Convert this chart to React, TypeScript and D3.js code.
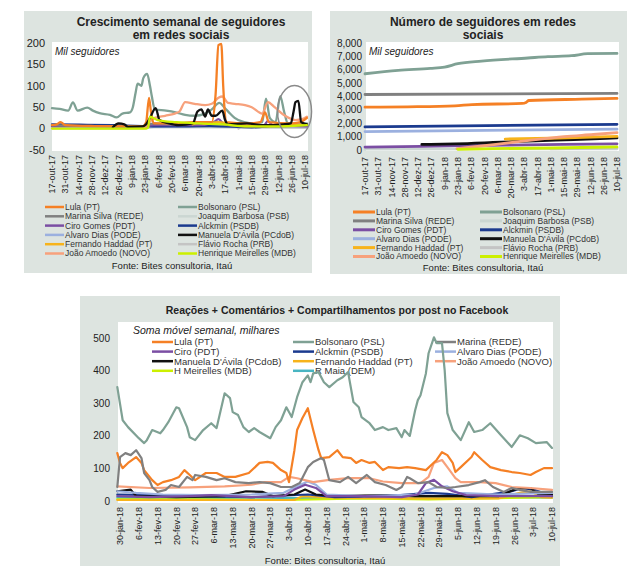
import * as d3 from "d3";
import type { ReactNode } from "react";

type Pt = [string, number];

const MESES = ["jan", "fev", "mar", "abr", "mai", "jun", "jul", "ago", "set", "out", "nov", "dez"];
const parseDia = (s: string) => {
  const [d, m, a] = s.split("-");
  return new Date(2000 + +a, MESES.indexOf(m), +d);
};

const FONT = "'Liberation Sans', Arial, sans-serif";
const BG = "#dde4e0";
const TXT = "#222";

const COR = {
  lula: "#f58025", bolso: "#7fa194", marina: "#808080", joaquim: "#cbd6d2", ciro: "#7b4ea3",
  alckmin: "#1b3a8e", alvaro: "#9bb0df", manuela: "#111111", haddad: "#f7b31b", flavio: "#c4c4c4",
  amoedo: "#f7a17c", meirelles: "#ccf000", maia: "#48b5c2",
};

// ---- eixos ----
const TICKS_SEG = ["17-out-17", "31-out-17", "14-nov-17", "28-nov-17", "12-dez-17", "26-dez-17", "9-jan-18", "23-jan-18", "6-fev-18", "20-fev-18", "6-mar-18", "20-mar-18", "3-abr-18", "17-abr-18", "1-mai-18", "15-mai-18", "29-mai-18", "12-jun-18", "26-jun-18", "10-jul-18"];
const TICKS_FB = ["30-jan-18", "6-fev-18", "13-fev-18", "20-fev-18", "27-fev-18", "6-mar-18", "13-mar-18", "20-mar-18", "27-mar-18", "3-abr-18", "10-abr-18", "17-abr-18", "24-abr-18", "1-mai-18", "8-mai-18", "15-mai-18", "22-mai-18", "29-mai-18", "5-jun-18", "12-jun-18", "19-jun-18", "26-jun-18", "3-jul-18", "10-jul-18"];
const Y_CRESC = [-50, 0, 50, 100, 150, 200];
const Y_NUM = [0, 1000, 2000, 3000, 4000, 5000, 6000, 7000, 8000];
const Y_FB = [0, 100, 200, 300, 400, 500];

// ---- crescimento semanal (mil seguidores) ----
const CR_LULA: Pt[] = [["17-out-17", 8], ["22-out-17", 10], ["26-out-17", 15], ["31-out-17", 8], ["1-dez-17", 6], ["20-jan-18", 5], ["24-jan-18", 15], ["27-jan-18", 72], ["29-jan-18", 40], ["1-fev-18", 12], ["20-fev-18", 12], ["15-mar-18", 15], ["3-abr-18", 15], ["7-abr-18", 80], ["10-abr-18", 195], ["13-abr-18", 198], ["15-abr-18", 100], ["18-abr-18", 15], ["10-mai-18", 12], ["24-mai-18", 15], ["29-mai-18", 38], ["2-jun-18", 15], ["25-jun-18", 12], ["5-jul-18", 15], ["12-jul-18", 25]];
const CR_BOLSO: Pt[] = [["17-out-17", 48], ["25-out-17", 46], ["3-nov-17", 42], ["8-nov-17", 61], ["13-nov-17", 42], ["23-nov-17", 49], ["29-nov-17", 42], ["6-dez-17", 36], ["17-dez-17", 32], ["24-dez-17", 26], ["30-dez-17", 35], ["7-jan-18", 38], ["10-jan-18", 50], ["13-jan-18", 85], ["15-jan-18", 105], ["19-jan-18", 100], ["21-jan-18", 118], ["25-jan-18", 128], ["28-jan-18", 100], ["30-jan-18", 75], ["2-fev-18", 45], ["14-fev-18", 42], ["24-fev-18", 38], ["6-mar-18", 32], ["16-mar-18", 30], ["27-mar-18", 35], ["3-abr-18", 45], ["11-abr-18", 60], ["16-abr-18", 50], ["21-abr-18", 38], ["27-abr-18", 25], ["7-mai-18", 15], ["18-mai-18", 12], ["26-mai-18", 15], ["30-mai-18", 70], ["3-jun-18", 25], ["9-jun-18", 15], ["14-jun-18", 76], ["18-jun-18", 40], ["22-jun-18", 12], ["3-jul-18", 10], ["12-jul-18", 12]];
const CR_MARINA: Pt[] = [["17-out-17", 8], ["15-nov-17", 6], ["20-dez-17", 5], ["20-jan-18", 5], ["1-fev-18", 12], ["20-fev-18", 10], ["20-mar-18", 12], ["10-abr-18", 15], ["20-abr-18", 8], ["20-mai-18", 5], ["10-jun-18", 5], ["12-jul-18", 8]];
const CR_JOAQUIM: Pt[] = [["17-out-17", 0], ["20-jan-18", 0], ["1-fev-18", 3], ["12-jul-18", 2]];
const CR_CIRO: Pt[] = [["17-out-17", 5], ["1-dez-17", 6], ["20-jan-18", 5], ["1-fev-18", 8], ["20-mar-18", 8], ["5-abr-18", 15], ["10-abr-18", 22], ["16-abr-18", 10], ["10-mai-18", 5], ["28-mai-18", 8], ["1-jun-18", 18], ["6-jun-18", 8], ["12-jul-18", 5]];
const CR_ALCKMIN: Pt[] = [["17-out-17", 10], ["15-nov-17", 9], ["20-dez-17", 8], ["20-jan-18", 6], ["15-fev-18", 5], ["1-abr-18", 6], ["15-mai-18", 3], ["15-jun-18", 8], ["12-jul-18", 8]];
const CR_ALVARO: Pt[] = [["17-out-17", 6], ["1-dez-17", 5], ["20-jan-18", 4], ["1-mar-18", 5], ["10-abr-18", 8], ["15-mai-18", 5], ["12-jul-18", 6]];
const CR_MANUELA: Pt[] = [["20-dez-17", 3], ["26-dez-17", 12], ["1-jan-18", 10], ["5-jan-18", 4], ["20-jan-18", 5], ["24-jan-18", 10], ["28-jan-18", 25], ["3-fev-18", 48], ["7-fev-18", 20], ["17-fev-18", 12], ["27-fev-18", 8], ["14-mar-18", 12], ["19-mar-18", 40], ["23-mar-18", 45], ["27-mar-18", 28], ["30-mar-18", 45], ["3-abr-18", 30], ["7-abr-18", 30], ["14-abr-18", 42], ["17-abr-18", 20], ["20-abr-18", 10], ["10-mai-18", 12], ["27-mai-18", 8], ["17-jun-18", 10], ["25-jun-18", 12], ["28-jun-18", 40], ["30-jun-18", 62], ["3-jul-18", 65], ["6-jul-18", 15], ["12-jul-18", 10]];
const CR_HADDAD: Pt[] = [["14-mar-18", 10], ["20-mar-18", 15], ["27-mar-18", 12], ["10-abr-18", 15], ["1-mai-18", 8], ["1-jun-18", 6], ["12-jul-18", 10]];
const CR_FLAVIO: Pt[] = [["1-mai-18", 0], ["5-mai-18", 5], ["12-jul-18", 3]];
const CR_AMOEDO: Pt[] = [["23-jan-18", 3], ["2-fev-18", 25], ["13-fev-18", 30], ["23-fev-18", 35], ["28-fev-18", 40], ["6-mar-18", 62], ["16-mar-18", 58], ["27-mar-18", 55], ["3-abr-18", 58], ["10-abr-18", 72], ["14-abr-18", 75], ["20-abr-18", 60], ["27-abr-18", 58], ["8-mai-18", 55], ["15-mai-18", 50], ["26-mai-18", 35], ["1-jun-18", 62], ["8-jun-18", 50], ["19-jun-18", 30], ["30-jun-18", 20], ["7-jul-18", 22], ["12-jul-18", 28]];
const CR_MEIRELLES: Pt[] = [["17-out-17", 0], ["24-jan-18", 0], ["26-jan-18", 2], ["28-jan-18", 28], ["5-fev-18", 20], ["25-fev-18", 15], ["20-mar-18", 12], ["15-abr-18", 10], ["10-mai-18", 5], ["10-jun-18", 5], ["12-jul-18", 8]];

// ---- número de seguidores (mil) ----
const NU_LULA: Pt[] = [["17-out-17", 3200], ["1-dez-17", 3230], ["20-jan-18", 3300], ["7-fev-18", 3400], ["1-abr-18", 3480], ["5-abr-18", 3560], ["8-abr-18", 3700], ["3-jun-18", 3800], ["10-jul-18", 3860]];
const NU_BOLSO: Pt[] = [["17-out-17", 5700], ["21-nov-17", 5950], ["25-dez-17", 6100], ["9-jan-18", 6200], ["23-jan-18", 6450], ["17-fev-18", 6650], ["7-abr-18", 6880], ["28-abr-18", 6980], ["23-mai-18", 7050], ["9-jun-18", 7200], ["10-jul-18", 7220]];
const NU_MARINA: Pt[] = [["17-out-17", 4150], ["10-jul-18", 4230]];
const NU_JOAQUIM: Pt[] = [["17-out-17", 60], ["10-jul-18", 90]];
const NU_CIRO: Pt[] = [["17-out-17", 220], ["15-dez-17", 270], ["25-jan-18", 320], ["15-mar-18", 370], ["15-mai-18", 420], ["10-jul-18", 460]];
const NU_ALCKMIN: Pt[] = [["17-out-17", 1730], ["10-jul-18", 1920]];
const NU_ALVARO: Pt[] = [["17-out-17", 1380], ["10-jul-18", 1560]];
const NU_MANUELA: Pt[] = [["16-dez-17", 420], ["20-jan-18", 460], ["1-mar-18", 560], ["15-abr-18", 690], ["25-mai-18", 780], ["10-jul-18", 900]];
const NU_HADDAD: Pt[] = [["14-mar-18", 820], ["1-mai-18", 880], ["10-jul-18", 1020]];
const NU_FLAVIO: Pt[] = [["1-mai-18", 80], ["10-jul-18", 160]];
const NU_AMOEDO: Pt[] = [["22-jan-18", 100], ["15-fev-18", 280], ["15-mar-18", 520], ["15-abr-18", 780], ["15-mai-18", 1000], ["15-jun-18", 1160], ["10-jul-18", 1300]];
const NU_MEIRELLES: Pt[] = [["23-jan-18", 50], ["1-mar-18", 100], ["1-mai-18", 150], ["10-jul-18", 230]];

// ---- Facebook: soma móvel semanal (milhares) ----
const FB_LULA: Pt[] = [["29-jan-18", 147], ["30-jan-18", 117], ["31-jan-18", 101], ["2-fev-18", 117], ["5-fev-18", 135], ["7-fev-18", 117], ["8-fev-18", 95], ["11-fev-18", 64], ["13-fev-18", 49], ["15-fev-18", 58], ["18-fev-18", 64], ["21-fev-18", 74], ["23-fev-18", 95], ["25-fev-18", 80], ["27-fev-18", 64], ["3-mar-18", 86], ["7-mar-18", 86], ["10-mar-18", 74], ["14-mar-18", 74], ["19-mar-18", 86], ["23-mar-18", 117], ["26-mar-18", 120], ["28-mar-18", 117], ["31-mar-18", 95], ["2-abr-18", 86], ["3-abr-18", 58], ["5-abr-18", 156], ["6-abr-18", 218], ["8-abr-18", 255], ["10-abr-18", 285], ["12-abr-18", 218], ["14-abr-18", 156], ["15-abr-18", 132], ["18-abr-18", 135], ["21-abr-18", 156], ["23-abr-18", 135], ["26-abr-18", 132], ["28-abr-18", 117], ["30-abr-18", 126], ["3-mai-18", 117], ["5-mai-18", 120], ["8-mai-18", 95], ["10-mai-18", 104], ["14-mai-18", 101], ["17-mai-18", 104], ["20-mai-18", 101], ["24-mai-18", 95], ["28-mai-18", 126], ["30-mai-18", 150], ["1-jun-18", 141], ["3-jun-18", 117], ["4-jun-18", 89], ["6-jun-18", 104], ["10-jun-18", 135], ["11-jun-18", 150], ["14-jun-18", 126], ["17-jun-18", 104], ["21-jun-18", 95], ["25-jun-18", 89], ["28-jun-18", 86], ["2-jul-18", 80], ["4-jul-18", 89], ["7-jul-18", 101], ["10-jul-18", 101]];
const FB_BOLSO: Pt[] = [["29-jan-18", 350], ["31-jan-18", 248], ["2-fev-18", 227], ["6-fev-18", 193], ["8-fev-18", 178], ["9-fev-18", 187], ["11-fev-18", 218], ["14-fev-18", 208], ["15-fev-18", 218], ["17-fev-18", 242], ["20-fev-18", 288], ["21-fev-18", 285], ["24-fev-18", 227], ["25-fev-18", 196], ["27-fev-18", 187], ["2-mar-18", 218], ["5-mar-18", 239], ["7-mar-18", 224], ["10-mar-18", 331], ["12-mar-18", 316], ["13-mar-18", 273], ["15-mar-18", 264], ["17-mar-18", 227], ["19-mar-18", 212], ["21-mar-18", 224], ["23-mar-18", 212], ["27-mar-18", 193], ["29-mar-18", 227], ["31-mar-18", 248], ["2-abr-18", 288], ["4-abr-18", 258], ["6-abr-18", 319], ["8-abr-18", 365], ["10-abr-18", 386], ["11-abr-18", 365], ["12-abr-18", 392], ["14-abr-18", 396], ["16-abr-18", 365], ["18-abr-18", 350], ["21-abr-18", 371], ["23-abr-18", 380], ["25-abr-18", 396], ["27-abr-18", 304], ["29-abr-18", 288], ["30-abr-18", 258], ["3-mai-18", 239], ["5-mai-18", 218], ["8-mai-18", 227], ["10-mai-18", 218], ["13-mai-18", 224], ["15-mai-18", 196], ["16-mai-18", 218], ["18-mai-18", 200], ["20-mai-18", 279], ["21-mai-18", 310], ["22-mai-18", 325], ["24-mai-18", 392], ["25-mai-18", 454], ["27-mai-18", 503], ["28-mai-18", 485], ["30-mai-18", 485], ["31-mai-18", 402], ["1-jun-18", 270], ["3-jun-18", 218], ["6-jun-18", 187], ["9-jun-18", 242], ["11-jun-18", 212], ["14-jun-18", 218], ["17-jun-18", 239], ["21-jun-18", 202], ["25-jun-18", 166], ["28-jun-18", 202], ["1-jul-18", 193], ["4-jul-18", 178], ["8-jul-18", 181], ["10-jul-18", 163]];
const FB_MARINA: Pt[] = [["29-jan-18", 43], ["30-jan-18", 135], ["1-fev-18", 147], ["3-fev-18", 141], ["5-fev-18", 156], ["7-fev-18", 132], ["8-fev-18", 86], ["10-fev-18", 64], ["11-fev-18", 43], ["13-fev-18", 28], ["16-fev-18", 34], ["18-fev-18", 49], ["21-fev-18", 43], ["24-fev-18", 74], ["26-fev-18", 64], ["27-fev-18", 80], ["3-mar-18", 74], ["7-mar-18", 64], ["10-mar-18", 70], ["14-mar-18", 58], ["19-mar-18", 55], ["23-mar-18", 58], ["27-mar-18", 55], ["31-mar-18", 43], ["4-abr-18", 43], ["7-abr-18", 55], ["10-abr-18", 104], ["12-abr-18", 120], ["15-abr-18", 132], ["16-abr-18", 126], ["18-abr-18", 64], ["22-abr-18", 58], ["25-abr-18", 74], ["28-abr-18", 55], ["2-mai-18", 80], ["5-mai-18", 58], ["9-mai-18", 49], ["13-mai-18", 34], ["15-mai-18", 43], ["17-mai-18", 74], ["18-mai-18", 70], ["21-mai-18", 55], ["25-mai-18", 58], ["28-mai-18", 43], ["1-jun-18", 40], ["4-jun-18", 43], ["9-jun-18", 49], ["13-jun-18", 58], ["15-jun-18", 64], ["18-jun-18", 43], ["22-jun-18", 28], ["25-jun-18", 40], ["28-jun-18", 34], ["2-jul-18", 28], ["10-jul-18", 28]];
const FB_CIRO: Pt[] = [["29-jan-18", 15], ["10-fev-18", 12], ["25-fev-18", 15], ["5-mar-18", 18], ["20-mar-18", 12], ["1-abr-18", 15], ["5-abr-18", 35], ["9-abr-18", 50], ["13-abr-18", 40], ["17-abr-18", 15], ["1-mai-18", 15], ["15-mai-18", 12], ["21-mai-18", 20], ["24-mai-18", 55], ["27-mai-18", 65], ["30-mai-18", 45], ["3-jun-18", 30], ["8-jun-18", 18], ["20-jun-18", 15], ["10-jul-18", 15]];
const FB_ALCKMIN: Pt[] = [["29-jan-18", 20], ["10-fev-18", 18], ["1-mar-18", 15], ["20-mar-18", 12], ["10-abr-18", 20], ["20-abr-18", 12], ["10-mai-18", 15], ["25-mai-18", 25], ["1-jun-18", 22], ["10-jun-18", 12], ["25-jun-18", 30], ["29-jun-18", 40], ["3-jul-18", 35], ["10-jul-18", 15]];
const FB_ALVARO: Pt[] = [["29-jan-18", 30], ["5-fev-18", 25], ["15-fev-18", 20], ["1-mar-18", 18], ["20-mar-18", 20], ["1-abr-18", 25], ["6-abr-18", 45], ["10-abr-18", 60], ["13-abr-18", 50], ["17-abr-18", 20], ["1-mai-18", 15], ["20-mai-18", 20], ["27-mai-18", 40], ["1-jun-18", 45], ["5-jun-18", 25], ["20-jun-18", 20], ["10-jul-18", 25]];
const FB_MANUELA: Pt[] = [["29-jan-18", 30], ["3-fev-18", 35], ["5-fev-18", 15], ["20-fev-18", 12], ["10-mar-18", 15], ["18-mar-18", 30], ["24-mar-18", 28], ["28-mar-18", 15], ["5-abr-18", 20], ["9-abr-18", 35], ["13-abr-18", 20], ["20-abr-18", 15], ["10-mai-18", 18], ["20-mai-18", 15], ["1-jun-18", 15], ["20-jun-18", 15], ["27-jun-18", 38], ["2-jul-18", 40], ["5-jul-18", 20], ["10-jul-18", 20]];
const FB_HADDAD: Pt[] = [["29-jan-18", 3], ["5-abr-18", 3], ["8-abr-18", 15], ["20-abr-18", 10], ["20-mai-18", 8], ["20-jun-18", 8], ["28-jun-18", 25], ["2-jul-18", 30], ["6-jul-18", 12], ["10-jul-18", 10]];
const FB_AMOEDO: Pt[] = [["29-jan-18", 45], ["10-fev-18", 40], ["25-fev-18", 42], ["10-mar-18", 45], ["20-mar-18", 50], ["25-mar-18", 58], ["31-mar-18", 58], ["3-abr-18", 74], ["6-abr-18", 70], ["12-abr-18", 58], ["18-abr-18", 65], ["25-abr-18", 70], ["3-mai-18", 70], ["8-mai-18", 60], ["15-mai-18", 55], ["22-mai-18", 55], ["25-mai-18", 74], ["27-mai-18", 117], ["30-mai-18", 126], ["1-jun-18", 104], ["4-jun-18", 70], ["6-jun-18", 58], ["13-jun-18", 58], ["19-jun-18", 55], ["25-jun-18", 43], ["2-jul-18", 40], ["10-jul-18", 34]];
const FB_MEIRELLES: Pt[] = [["29-jan-18", 5], ["1-mar-18", 5], ["1-abr-18", 3], ["1-mai-18", 8], ["25-mai-18", 5], ["15-jun-18", 8], ["10-jul-18", 12]];
const FB_MAIA: Pt[] = [["29-jan-18", 10], ["20-fev-18", 8], ["20-mar-18", 10], ["20-abr-18", 8], ["20-mai-18", 10], ["20-jun-18", 12], ["10-jul-18", 10]];

interface Serie { rotulo: string; cor: string; dados: Pt[] }

const s = (rotulo: string, cor: string, dados: Pt[]): Serie => ({ rotulo, cor, dados });

const CR = {
  lula: s("Lula (PT)", COR.lula, CR_LULA), bolso: s("Bolsonaro (PSL)", COR.bolso, CR_BOLSO),
  marina: s("Marina Silva (REDE)", COR.marina, CR_MARINA), joaquim: s("Joaquim Barbosa (PSB)", COR.joaquim, CR_JOAQUIM),
  ciro: s("Ciro Gomes (PDT)", COR.ciro, CR_CIRO), alckmin: s("Alckmin (PSDB)", COR.alckmin, CR_ALCKMIN),
  alvaro: s("Alvaro Dias (PODE)", COR.alvaro, CR_ALVARO), manuela: s("Manuela D'Ávila (PCdoB)", COR.manuela, CR_MANUELA),
  haddad: s("Fernando Haddad (PT)", COR.haddad, CR_HADDAD), flavio: s("Flávio Rocha (PRB)", COR.flavio, CR_FLAVIO),
  amoedo: s("João Amoedo (NOVO)", COR.amoedo, CR_AMOEDO), meirelles: s("Henrique Meirelles (MDB)", COR.meirelles, CR_MEIRELLES),
};
const NU = {
  lula: s("Lula (PT)", COR.lula, NU_LULA), bolso: s("Bolsonaro (PSL)", COR.bolso, NU_BOLSO),
  marina: s("Marina Silva (REDE)", COR.marina, NU_MARINA), joaquim: s("Joaquim Barbosa (PSB)", COR.joaquim, NU_JOAQUIM),
  ciro: s("Ciro Gomes (PDT)", COR.ciro, NU_CIRO), alckmin: s("Alckmin (PSDB)", COR.alckmin, NU_ALCKMIN),
  alvaro: s("Alvaro Dias (PODE)", COR.alvaro, NU_ALVARO), manuela: s("Manuela D'Ávila (PCdoB)", COR.manuela, NU_MANUELA),
  haddad: s("Fernando Haddad (PT)", COR.haddad, NU_HADDAD), flavio: s("Flávio Rocha (PRB)", COR.flavio, NU_FLAVIO),
  amoedo: s("João Amoedo (NOVO)", COR.amoedo, NU_AMOEDO), meirelles: s("Henrique Meirelles (MDB)", COR.meirelles, NU_MEIRELLES),
};
const FB = {
  lula: s("Lula (PT)", COR.lula, FB_LULA), bolso: s("Bolsonaro (PSL)", COR.bolso, FB_BOLSO),
  marina: s("Marina (REDE)", COR.marina, FB_MARINA), ciro: s("Ciro (PDT)", COR.ciro, FB_CIRO),
  alckmin: s("Alckmin (PSDB)", COR.alckmin, FB_ALCKMIN), alvaro: s("Alvaro Dias (PODE)", COR.alvaro, FB_ALVARO),
  manuela: s("Manuela D'Ávila (PCdoB)", COR.manuela, FB_MANUELA), haddad: s("Fernando Haddad (PT)", COR.haddad, FB_HADDAD),
  amoedo: s("João Amoedo (NOVO)", COR.amoedo, FB_AMOEDO), meirelles: s("H Meirelles (MDB)", COR.meirelles, FB_MEIRELLES),
  maia: s("R Maia (DEM)", COR.maia, FB_MAIA),
};

const rotuloData = (d: Date) => `${d.getDate()}-${MESES[d.getMonth()]}-${String(d.getFullYear()).slice(2)}`;

interface Cfg {
  caixa: [number, number, number, number];
  area: [number, number, number, number];
  xDom: [string, string]; xRange: [number, number];
  yDom: [number, number]; yRange: [number, number];
  yTicks: number[]; yFmt: (v: number) => string; yLabelX: number; yFont: number;
  xTicks: string[]; xLabelY: number;
  series: Serie[]; curva: d3.CurveFactory; sw: number;
  titulo: string[]; tituloX: number; tituloY: number[]; tituloFont: number;
  sub: string; subX: number; subY: number; subFont: number;
  fonte: [number, number];
  leg: { itens: Serie[]; colX: number[]; y0: number; passo: number; porColuna: boolean; n: number; lineLen: number; font: number; sw: number };
  extra?: (x: d3.ScaleTime<number, number>, y: d3.ScaleLinear<number, number>) => ReactNode;
}

function Painel({ c }: { c: Cfg }) {
  const x = d3.scaleTime().domain(c.xDom.map(parseDia)).range(c.xRange);
  const y = d3.scaleLinear().domain(c.yDom).range(c.yRange);
  const linha = d3.line<Pt>().x(d => x(parseDia(d[0]))).y(d => y(d[1])).curve(c.curva);
  const [bx, by, bw, bh] = c.caixa;
  const [ax0, ay0, ax1, ay1] = c.area;
  return (
    <g fontFamily={FONT}>
      <rect x={bx} y={by} width={bw} height={bh} fill={BG} />
      <rect x={ax0} y={ay0} width={ax1 - ax0} height={ay1 - ay0} fill="#fff" />
      {c.titulo.map((t, i) => (
        <text key={t} x={c.tituloX} y={c.tituloY[i]} textAnchor="middle" fontWeight="bold" fontSize={c.tituloFont} fill={TXT}>{t}</text>
      ))}
      {c.yTicks.map(v => (
        <text key={v} x={c.yLabelX} y={y(v)} dy="0.35em" textAnchor="end" fontSize={c.yFont} fill={TXT}>{c.yFmt(v)}</text>
      ))}
      {c.xTicks.map(t => {
        const d = parseDia(t);
        return (
          <text key={t} transform={`translate(${x(d)},${c.xLabelY}) rotate(-90)`} dy="0.35em" textAnchor="end" fontSize={9} fill={TXT}>{rotuloData(d)}</text>
        );
      })}
      <text x={c.subX} y={c.subY} fontStyle="italic" fontSize={c.subFont} fill={TXT}>{c.sub}</text>
      {c.leg.itens.map((it, i) => {
        const col = c.leg.porColuna ? Math.floor(i / c.leg.n) : i % c.leg.n;
        const row = c.leg.porColuna ? i % c.leg.n : Math.floor(i / c.leg.n);
        const lx = c.leg.colX[col];
        const ly = c.leg.y0 + row * c.leg.passo;
        return (
          <g key={it.rotulo}>
            <line x1={lx} x2={lx + c.leg.lineLen} y1={ly} y2={ly} stroke={it.cor} strokeWidth={c.leg.sw} />
            <text x={lx + c.leg.lineLen + 1} y={ly} dy="0.35em" fontSize={c.leg.font} fill="#333">{it.rotulo}</text>
          </g>
        );
      })}
      {c.series.map(se => (
        <path key={se.rotulo} d={linha(se.dados) ?? ""} fill="none" stroke={se.cor} strokeWidth={c.sw} strokeLinejoin="round" strokeLinecap="round" />
      ))}
      {c.extra && c.extra(x, y)}
      <text x={c.fonte[0]} y={c.fonte[1]} textAnchor="middle" fontSize={9.5} fill={TXT}>Fonte: Bites consultoria, Itaú</text>
    </g>
  );
}

const legendaSeg = (m: typeof CR): Serie[] => [m.lula, m.marina, m.ciro, m.alvaro, m.haddad, m.amoedo, m.bolso, m.joaquim, m.alckmin, m.manuela, m.flavio, m.meirelles];

const cfgCresc: Cfg = {
  caixa: [24, 11, 288, 262], area: [52, 42, 308, 151],
  xDom: ["17-out-17", "10-jul-18"], xRange: [52, 305],
  yDom: [-50, 200], yRange: [150, 43],
  yTicks: Y_CRESC, yFmt: v => String(v), yLabelX: 45, yFont: 11,
  xTicks: TICKS_SEG, xLabelY: 155,
  series: [CR.joaquim, CR.flavio, CR.alvaro, CR.alckmin, CR.ciro, CR.marina, CR.bolso, CR.amoedo, CR.haddad, CR.lula, CR.manuela, CR.meirelles],
  curva: d3.curveMonotoneX, sw: 2.3,
  titulo: ["Crescimento semanal de seguidores", "em redes sociais"], tituloX: 181, tituloY: [26, 39], tituloFont: 12,
  sub: "Mil seguidores", subX: 55, subY: 55, subFont: 10,
  fonte: [172, 269],
  leg: { itens: legendaSeg(CR), colX: [45, 178], y0: 207, passo: 9.3, porColuna: true, n: 6, lineLen: 19, font: 8.5, sw: 2.5 },
  extra: (x, y) => (
    <ellipse cx={x(parseDia("29-jun-18"))} cy={y(40)} rx={17} ry={26} fill="none" stroke="#8a8a8a" strokeWidth={1.5} />
  ),
};

const cfgNum: Cfg = {
  caixa: [330, 11, 297, 263], area: [366, 42, 619, 151],
  xDom: ["17-out-17", "10-jul-18"], xRange: [365, 617],
  yDom: [0, 8000], yRange: [150, 43],
  yTicks: Y_NUM, yFmt: v => d3.format(",")(v), yLabelX: 362, yFont: 10,
  xTicks: TICKS_SEG, xLabelY: 157,
  series: [NU.joaquim, NU.flavio, NU.ciro, NU.alvaro, NU.alckmin, NU.marina, NU.bolso, NU.manuela, NU.haddad, NU.amoedo, NU.lula, NU.meirelles],
  curva: d3.curveMonotoneX, sw: 2.8,
  titulo: ["Número de seguidores em redes", "sociais"], tituloX: 483, tituloY: [26, 39], tituloFont: 12,
  sub: "Mil seguidores", subX: 369, subY: 55, subFont: 10,
  fonte: [483, 271],
  leg: { itens: legendaSeg(NU), colX: [353, 480], y0: 212, passo: 8.9, porColuna: true, n: 6, lineLen: 22, font: 8.5, sw: 3 },
};

const cfgFb: Cfg = {
  caixa: [80, 296, 480, 270], area: [118, 322, 553, 503],
  xDom: ["30-jan-18", "10-jul-18"], xRange: [120, 552],
  yDom: [0, 550], yRange: [501, 322],
  yTicks: Y_FB, yFmt: v => String(v), yLabelX: 110, yFont: 10,
  xTicks: TICKS_FB, xLabelY: 507,
  series: [FB.maia, FB.meirelles, FB.haddad, FB.alckmin, FB.manuela, FB.alvaro, FB.ciro, FB.amoedo, FB.lula, FB.marina, FB.bolso],
  curva: d3.curveLinear, sw: 2.2,
  titulo: ["Reações + Comentários + Compartilhamentos por post no Facebook"], tituloX: 337, tituloY: [314], tituloFont: 10.5,
  sub: "Soma móvel semanal, milhares", subX: 133, subY: 334, subFont: 10.5,
  fonte: [325, 564],
  leg: { itens: [FB.lula, FB.bolso, FB.marina, FB.ciro, FB.alckmin, FB.alvaro, FB.manuela, FB.haddad, FB.amoedo, FB.meirelles, FB.maia], colX: [152, 293, 435], y0: 342, passo: 9.6, porColuna: false, n: 3, lineLen: 21, font: 9.5, sw: 2.5 },
};

export default function App() {
  return (
    <svg width={640} height={580} style={{ position: "absolute", left: 0, top: 0, background: "#fff" }}>
      <Painel c={cfgCresc} />
      <Painel c={cfgNum} />
      <Painel c={cfgFb} />
    </svg>
  );
}
